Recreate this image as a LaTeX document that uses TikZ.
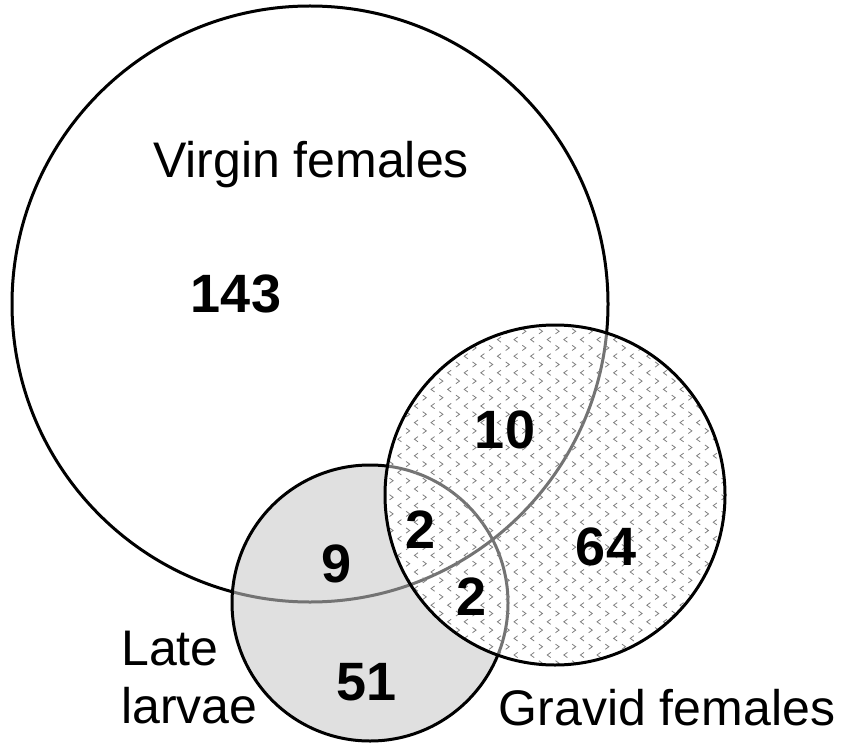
\documentclass[tikz,border=0pt]{standalone}
\usepackage{fontspec}
\setmainfont{Liberation Sans}
\begin{document}
\begin{tikzpicture}[x=1pt,y=-1pt,
  setline/.style={line width=3pt,draw=black},
  hidden/.style={line width=3pt,draw=black!55},
  setlabel/.style={anchor=base,inner sep=0pt,font=\fontsize{50}{58}\selectfont},
  count/.style={anchor=base,inner sep=0pt,font=\fontsize{54}{60}\selectfont\bfseries},
  chev/.style={draw=black!50,line width=0.8pt}]
\useasboundingbox (0,0) rectangle (842,743);
\fill[white] (0,0) rectangle (842,743);

% set centres
\coordinate (V) at (310,304);
\coordinate (L) at (370,603);
\coordinate (G) at (555,495);

% virgin females
\draw[setline] (V) circle (298);

% late larvae: grey disc, the virgin outline shows through in grey
\fill[black!12] (L) circle (138);
\begin{scope}
  \clip (L) circle (138);
  \draw[hidden] (V) circle (298);
\end{scope}
\draw[setline] (L) circle (138);

% gravid females: white disc with chevron texture, other outlines in grey
\fill[white] (G) circle (170);
\begin{scope}
  \clip (G) circle (170);
  \draw[hidden] (V) circle (298);
  \draw[hidden] (L) circle (138);
  \draw[chev]
    \foreach \j in {0,...,42} {
      \foreach \i in {0,...,21} {
        ({383+\i*16.6+mod(\j,2)*8.3},{323+\j*8.3}) ++({(1-2*mod(\j,2))*1.8},-2.6) -- ++({(2*mod(\j,2)-1)*3.6},2.6) -- ++({(1-2*mod(\j,2))*3.6},2.6)
      }
    };
\end{scope}
\draw[setline] (G) circle (170);

% set names
\node[setlabel] (tv) at (311,178) {Virgin females};
\node[setlabel,anchor=base west] (tl1) at (121,665) {Late};
\node[setlabel,anchor=base west] (tl2) at (121,723) {larvae};
\node[setlabel] (tg) at (667,725) {Gravid females};

% region counts
\node[count] (n143) at (236,312) {143};
\node[count] (n10)  at (505,448) {10};
\node[count] (n64)  at (606,565) {64};
\node[count] (n2a)  at (421,548) {2};
\node[count] (n2b)  at (472,615) {2};
\node[count] (n9)   at (337,582) {9};
\node[count] (n51)  at (367,700) {51};
\end{tikzpicture}
\end{document}
